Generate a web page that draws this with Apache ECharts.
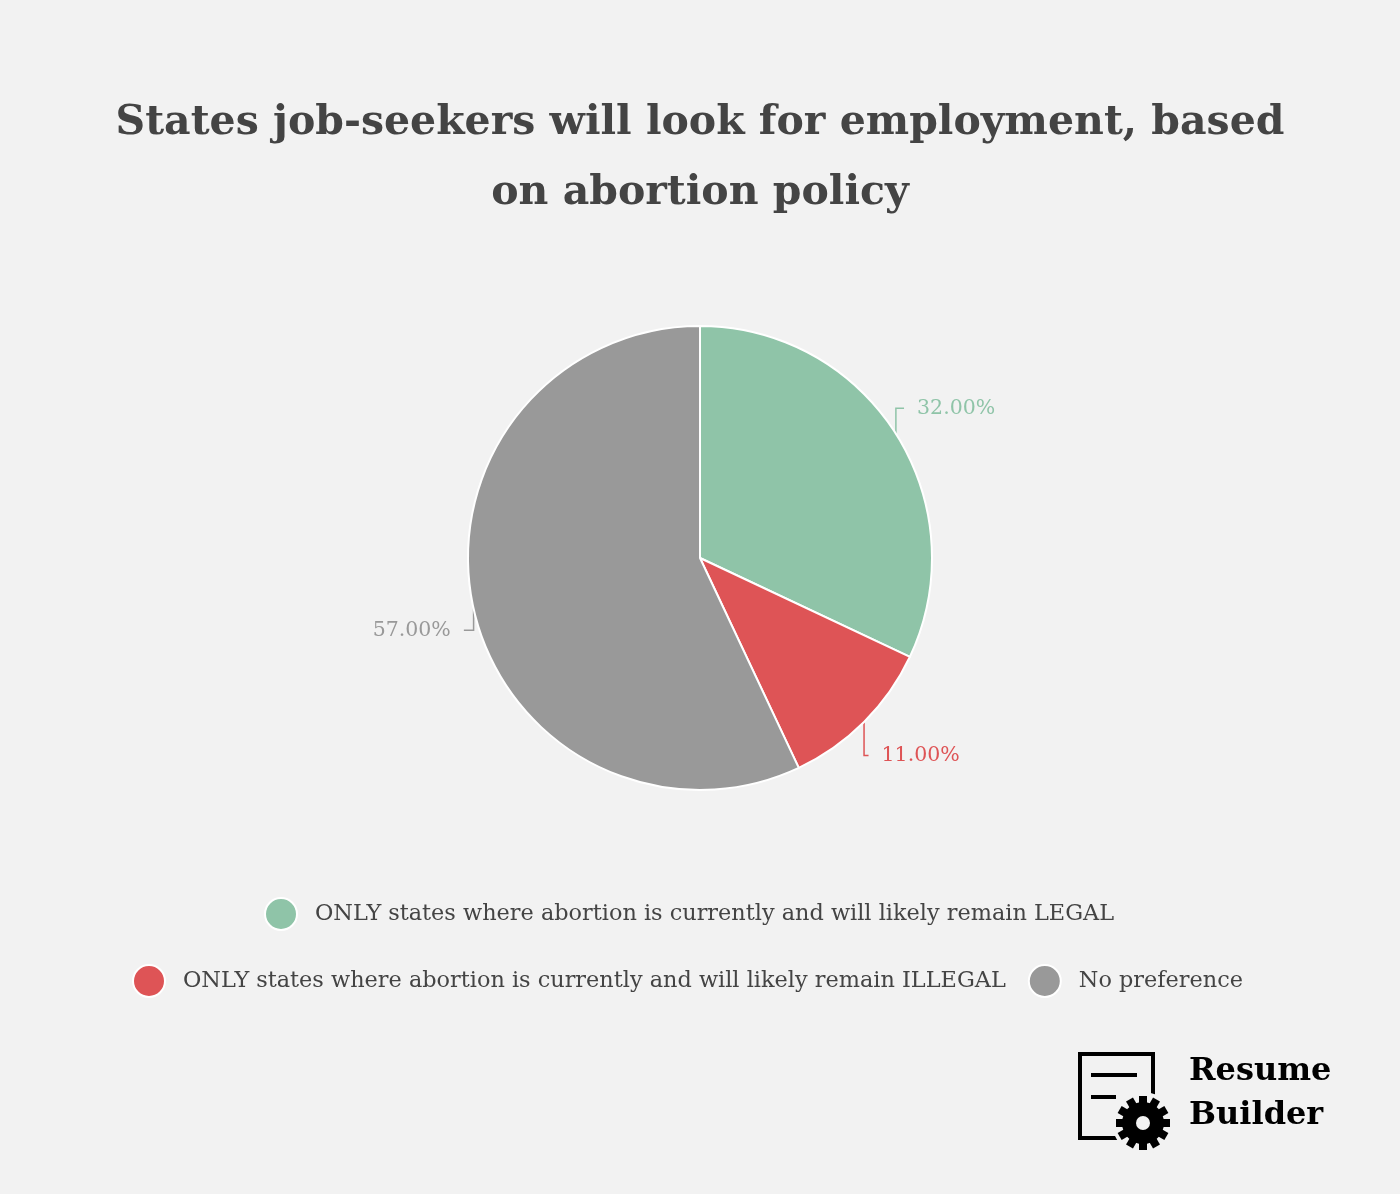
<!doctype html>
<html>
<head>
<meta charset="utf-8" />
<script src="https://cdn.jsdelivr.net/npm/echarts@6/dist/echarts.min.js"></script>
<style>
  html, body { margin: 0; padding: 0; background: #f2f2f2; }
  #chart { width: 1400px; height: 1194px; }
</style>
</head>
<body>
<div id="chart"></div>
<script>
const categories = [
    'ONLY states where abortion is currently and will likely remain LEGAL',
    'ONLY states where abortion is currently and will likely remain ILLEGAL',
    'No preference',
];
const shares = [32, 11, 57];
const colors = ['#8fc4a8', '#de5456', '#999999'];
// small nudges so labels sit where the original placed them
const labelNudge = [[-19, -19], [-21, 25], [19, 19]];

const serif = '"DejaVu Serif", "Liberation Serif", serif';

const chart = echarts.init(document.getElementById('chart'));

// gear for the logo
const gearCx = 1143, gearCy = 1123;
const teeth = [];
for (let i = 0; i < 6; i++) {
    teeth.push({
        type: 'rect',
        x: gearCx, y: gearCy,
        shape: { x: -4, y: -27, width: 8, height: 54 },
        rotation: (i * Math.PI) / 6,
        style: { fill: '#000' },
    });
}

const legendText = { fontFamily: serif, fontSize: 22.4, color: '#444444', padding: [0, 0, 0, 13] };

function nudgeLabel(p) {
    const r = p.labelRect;
    const n = labelNudge[p.dataIndex];
    let ax = r.x;
    if (p.align === 'right') ax = r.x + r.width;
    else if (p.align === 'center') ax = r.x + r.width / 2;
    let ay = r.y;
    if (p.verticalAlign === 'middle') ay = r.y + r.height / 2;
    else if (p.verticalAlign === 'bottom') ay = r.y + r.height;
    return { x: ax + n[0], y: ay + n[1] };
}

chart.setOption({
    backgroundColor: '#f2f2f2',
    color: colors,
    title: {
        text: 'States job-seekers will look for employment, based\non abortion policy',
        left: 'center',
        top: 83,
        textStyle: {
            fontFamily: serif,
            fontWeight: 'bold',
            fontSize: 41,
            lineHeight: 70,
            color: '#444444',
        },
    },
    legend: [
        {
            data: [categories[0]],
            left: 259,
            top: 892,
            icon: 'circle',
            itemWidth: 32,
            itemHeight: 32,
            itemGap: 22,
            textStyle: legendText,
        },
        {
            data: [categories[1], categories[2]],
            left: 127,
            top: 959,
            icon: 'circle',
            itemWidth: 32,
            itemHeight: 32,
            itemGap: 22,
            textStyle: legendText,
        },
    ],
    series: [
        {
            type: 'pie',
            center: [700, 558],
            radius: 232,
            startAngle: 90,
            clockwise: true,
            itemStyle: { borderColor: '#ffffff', borderWidth: 2 },
            label: {
                // spaces keep a small gap between the line end and the text
                formatter: (p) => {
                    const t = p.value.toFixed(2) + '%';
                    return p.dataIndex === 2 ? t + '  ' : '  ' + t;
                },
                fontFamily: serif,
                fontSize: 20.5,
            },
            labelLine: { length: 12, length2: 12, lineStyle: { width: 1.5 } },
            labelLayout: nudgeLabel,
            data: categories.map((name, i) => ({
                name,
                value: shares[i],
                label: { color: colors[i] },
            })),
        },
    ],
    graphic: [
        {
            type: 'rect',
            shape: { x: 1080, y: 1054, width: 73, height: 84 },
            style: { fill: 'none', stroke: '#000', lineWidth: 4 },
        },
        {
            type: 'line',
            shape: { x1: 1091, y1: 1075, x2: 1137, y2: 1075 },
            style: { stroke: '#000', lineWidth: 4 },
        },
        {
            type: 'line',
            shape: { x1: 1091, y1: 1097, x2: 1116, y2: 1097 },
            style: { stroke: '#000', lineWidth: 4 },
        },
        {
            type: 'circle',
            shape: { cx: gearCx, cy: gearCy, r: 31 },
            style: { fill: '#f2f2f2' },
        },
        ...teeth,
        {
            type: 'circle',
            shape: { cx: gearCx, cy: gearCy, r: 21 },
            style: { fill: '#000' },
        },
        {
            type: 'circle',
            shape: { cx: gearCx, cy: gearCy, r: 7 },
            style: { fill: '#f2f2f2' },
        },
        {
            type: 'text',
            x: 1189,
            y: 1050,
            style: {
                text: 'Resume\nBuilder',
                fontFamily: serif,
                fontWeight: 'bold',
                fontSize: 32,
                lineHeight: 44,
                fill: '#000',
            },
        },
    ],
});
</script>
</body>
</html>
